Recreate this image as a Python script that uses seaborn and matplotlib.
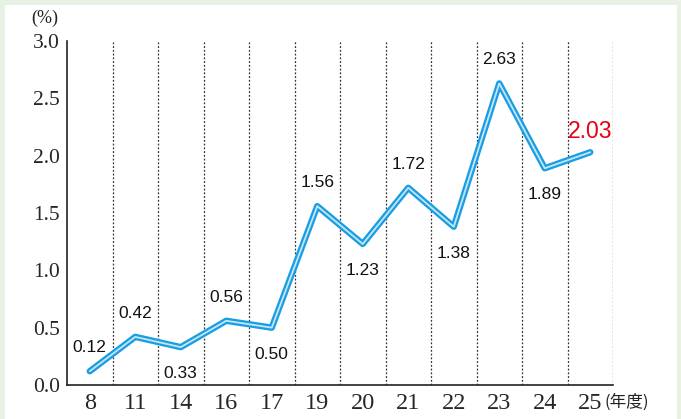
import numpy as np
import seaborn as sns
import matplotlib.pyplot as plt

# Fiscal years and rates (%)
years = ["8", "11", "14", "16", "17", "19", "20", "21", "22", "23", "24", "25"]
rates = [0.12, 0.42, 0.33, 0.56, 0.50, 1.56, 1.23, 1.72, 1.38, 2.63, 1.89, 2.03]
# label above (1) or below (-1) the point
label_side = [1, 1, -1, 1, -1, 1, -1, 1, -1, 1, -1, 1]

sns.set_style("white")
plt.rcParams["font.family"] = ["DejaVu Sans", "Noto Sans CJK JP"]

fig = plt.figure(figsize=(6.81, 4.19), dpi=100)
fig.patch.set_facecolor("#e7f2e5")

# white panel inside the green frame
bg = fig.add_axes([5 / 681, 0, 672 / 681, 414 / 419], zorder=-1)
bg.set_facecolor("white")
bg.set_xticks([])
bg.set_yticks([])
for s in bg.spines.values():
    s.set_visible(False)

ax = fig.add_axes([67 / 681, 34 / 419, 546 / 681, 344 / 419])
ax.set_facecolor("none")

x = np.arange(len(years))
sns.lineplot(x=x, y=rates, ax=ax, color="#1a9ee2", lw=4.6,
             solid_joinstyle="round", solid_capstyle="round", clip_on=False)
sns.lineplot(x=x, y=rates, ax=ax, color="#c4e6f8", lw=1.3,
             solid_joinstyle="round", clip_on=False)

for xi in x:
    ax.axvline(xi + 0.5, color="#333333", lw=0.9, ls=(0, (1.5, 1.5)), zorder=0)

ax.set_xlim(-0.5, len(years) - 0.5)
ax.set_ylim(0, 3.0)
ax.set_yticks(np.arange(0, 3.01, 0.5))
ax.set_yticklabels([f"{v:.1f}" for v in np.arange(0, 3.01, 0.5)],
                   family="Liberation Serif", fontsize=15.5)
ax.set_xticks(x)
ax.set_xticklabels(years, family="Liberation Serif", fontsize=17.5)
ax.tick_params(axis="y", direction="in", length=10, width=1.2, pad=5, color="#222222")
ax.tick_params(axis="x", length=0, pad=6)

for s in ["top", "right"]:
    ax.spines[s].set_visible(False)
for s in ["left", "bottom"]:
    ax.spines[s].set_color("#222222")
    ax.spines[s].set_linewidth(1.2)

for i, (xi, v) in enumerate(zip(x, rates)):
    last = i == len(years) - 1
    off = 17 if label_side[i] > 0 else -19
    ax.annotate(f"{v:.2f}", (xi, v), xytext=(0, off if not last else 15),
                textcoords="offset points", ha="center", va="center",
                fontsize=16.5 if last else 12.5,
                color="#e60012" if last else "#111111",
                family="Liberation Sans")

fig.text(605 / 681, 17 / 419, "(年度)", ha="left", va="center", fontsize=12,
         family=["Noto Sans CJK JP"], color="#222222")
fig.text(45 / 681, (419 - 18) / 419, "(%)", ha="center", va="center",
         fontsize=13, family="Liberation Serif", color="#222222")

fig.savefig("out.png", dpi=100)
